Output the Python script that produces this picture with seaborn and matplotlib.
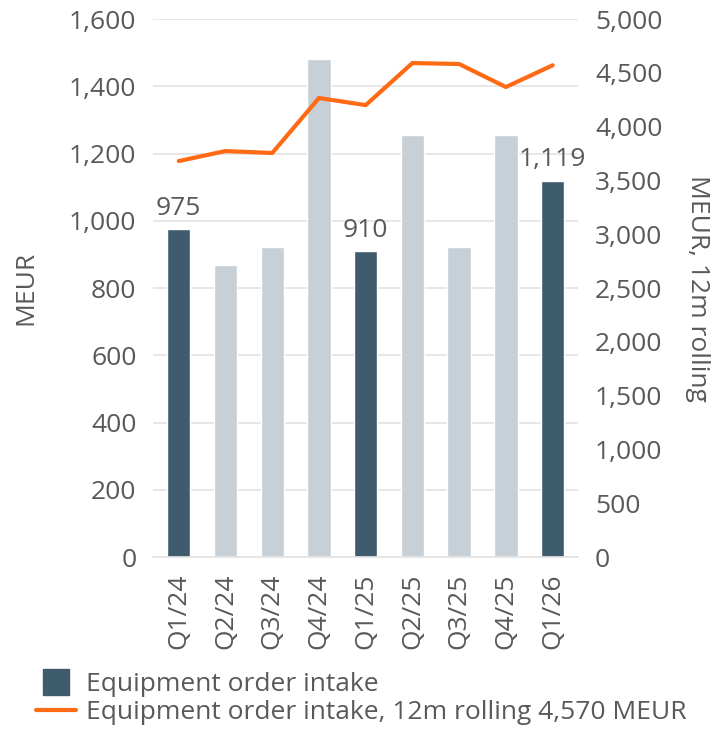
import seaborn as sns
from matplotlib import pyplot as plt
from matplotlib.lines import Line2D

quarters = ["Q1/24", "Q2/24", "Q3/24", "Q4/24", "Q1/25", "Q2/25", "Q3/25", "Q4/25", "Q1/26"]
order_intake = [975, 870, 922, 1482, 910, 1256, 922, 1256, 1119]
rolling_12m = [3680, 3773, 3755, 4266, 4200, 4591, 4582, 4368, 4570]
labelled = {"Q1/24": "975", "Q1/25": "910", "Q1/26": "1,119"}

dark = "#3f5b6e"
light = "#c8d0d7"
orange = "#ff6b14"
txt = "#595959"

sns.set_style("white")
plt.rcParams["font.family"] = ["Open Sans", "DejaVu Sans"]
plt.rcParams["font.size"] = 19
plt.rcParams["text.color"] = txt
plt.rcParams["xtick.color"] = txt
plt.rcParams["ytick.color"] = txt
plt.rcParams["axes.labelcolor"] = txt

fig = plt.figure(figsize=(7.22, 7.32), dpi=100)
ax = fig.add_axes([0.212, 0.239, 0.589, 0.735])

colors = [dark if q.startswith("Q1") else light for q in quarters]
sns.barplot(x=quarters, y=order_intake, hue=quarters, palette=colors,
            legend=False, width=0.5, ax=ax, saturation=1)

for i, q in enumerate(quarters):
    if q in labelled:
        ax.text(i, order_intake[i] + 25, labelled[q], ha="center", va="bottom",
                fontsize=19, color=txt)

ax.set_ylim(0, 1600)
ax.set_yticks(range(0, 1601, 200))
ax.set_yticklabels([f"{v:,}" for v in range(0, 1601, 200)])
ax.yaxis.grid(True, color="#e3e3e3", linewidth=1.2)
ax.set_axisbelow(True)
ax.set_xlim(-0.55, len(quarters) - 0.45)
ax.set_ylabel("MEUR", labelpad=22)
ax.tick_params(axis="x", rotation=90, length=0, pad=12)
ax.tick_params(axis="y", length=0, pad=12)
for s in ["top", "right", "left"]:
    ax.spines[s].set_visible(False)
ax.spines["bottom"].set_color("#e3e3e3")
ax.spines["bottom"].set_linewidth(1.2)

ax2 = ax.twinx()
sns.lineplot(x=list(range(len(quarters))), y=rolling_12m, color=orange,
             linewidth=3, ax=ax2)
ax2.set_ylim(0, 5000)
ax2.set_yticks(range(0, 5001, 500))
ax2.set_yticklabels([f"{v:,}" for v in range(0, 5001, 500)])
ax2.set_ylabel("MEUR, 12m rolling", rotation=-90, labelpad=34)
ax2.tick_params(axis="y", length=0, pad=12)
for s in ["top", "right", "left", "bottom"]:
    ax2.spines[s].set_visible(False)

handles = [
    Line2D([0], [0], color=dark, marker="s", markersize=19, linestyle="none"),
    Line2D([0], [0], color=orange, linewidth=3),
]
fig.legend(handles, ["Equipment order intake",
                     "Equipment order intake, 12m rolling 4,570 MEUR"],
           loc="lower left", bbox_to_anchor=(0.028, -0.012), frameon=False,
           fontsize=19, handlelength=1.5, handletextpad=0.4, labelspacing=0.12,
           borderaxespad=0.2)

fig.savefig("out.png", dpi=100)
